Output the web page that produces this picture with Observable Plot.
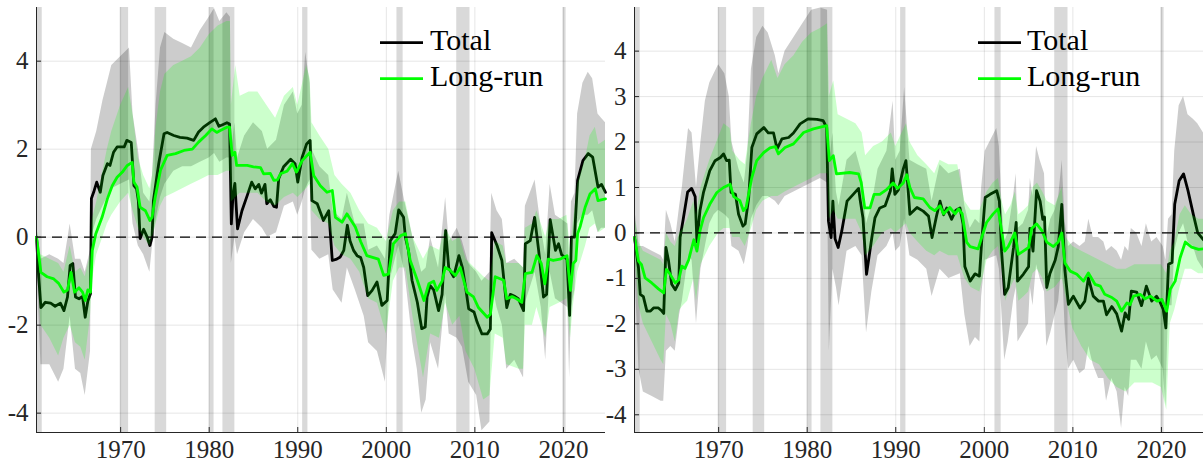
<!DOCTYPE html>
<html><head><meta charset="utf-8">
<script src="https://cdn.jsdelivr.net/npm/d3@7"></script>
<script src="https://cdn.jsdelivr.net/npm/@observablehq/plot@0.6"></script>
<style>
body{margin:0;background:#fff;}
#wrap{position:relative;width:1203px;height:467px;overflow:hidden;background:#fff;}
.panel{position:absolute;top:0;}
#legend{position:absolute;left:0;top:0;pointer-events:none;}
#wrap svg, #wrap svg text{font-family:"Liberation Serif", "DejaVu Serif", serif !important;}
#wrap .panel text{font-size:25px !important;}
</style></head><body><div id="wrap"></div>
<script>
// ---------- data ----------
const xDomain = [1960.5, 2024.75];
const xTicks = [1970, 1980, 1990, 2000, 2010, 2020];
const leftYTicks = [-4, -2, 0, 2, 4];
const rightYTicks = [-4, -3, -2, -1, 0, 1, 2, 3, 4];
const leftYDomain = [-4.44, 5.22];
const rightYDomain = [-4.39, 4.96];
const legendLabels = ["Total", "Long-run"];

// NBER recessions [start, end]
const recessions = [[1960.5,1961.15],[1969.95,1970.9],[1973.9,1975.2],[1980.0,1980.55],[1981.55,1982.9],[1990.55,1991.15],[2001.2,2001.9],[2007.95,2009.45],[2019.95,2020.3]];

// ----- left panel -----
const leftTotal = [[1960.5,0],[1960.75,-0.9],[1961.0,-1.6],[1961.5,-1.48],[1962.1,-1.5],[1962.6,-1.57],[1963.2,-1.5],[1963.6,-1.67],[1964.0,-1.36],[1964.3,-0.64],[1964.6,-0.6],[1964.9,-1.36],[1965.3,-1.4],[1965.7,-1.35],[1966.0,-1.82],[1966.3,-1.45],[1966.6,-1.28],[1966.7,0.88],[1967.0,1.05],[1967.3,1.25],[1967.7,1.02],[1968.0,1.4],[1968.5,1.67],[1968.8,1.63],[1969.2,1.93],[1969.6,2.05],[1970.4,2.05],[1970.7,2.2],[1971.2,2.15],[1971.5,1.17],[1971.8,1.1],[1972.0,0.83],[1972.2,-0.03],[1972.6,0.18],[1973.0,0.0],[1973.3,-0.19],[1973.55,0.0],[1973.7,0.83],[1974.3,1.67],[1974.9,2.35],[1975.25,2.38],[1976.0,2.31],[1976.7,2.27],[1977.5,2.25],[1978.25,2.2],[1978.8,2.39],[1979.35,2.5],[1980.1,2.61],[1980.7,2.69],[1981.1,2.52],[1981.45,2.55],[1982.0,2.6],[1982.3,2.57],[1982.5,0.3],[1982.7,0.99],[1982.9,1.22],[1983.2,0.19],[1983.7,0.6],[1984.3,0.95],[1984.8,1.25],[1985.2,1.1],[1985.6,1.2],[1985.9,1.0],[1986.3,1.2],[1986.5,0.76],[1986.9,0.85],[1987.3,0.7],[1987.6,0.68],[1987.85,1.33],[1988.4,1.6],[1989.2,1.77],[1989.7,1.67],[1990.0,1.25],[1990.5,1.82],[1991.0,2.12],[1991.4,2.2],[1991.6,0.83],[1992.2,0.76],[1992.9,0.38],[1993.5,0.6],[1993.9,-0.53],[1994.4,-0.5],[1994.8,-0.45],[1995.2,-0.3],[1995.6,0.27],[1995.9,-0.08],[1996.3,-0.3],[1996.7,-0.42],[1997.1,-0.46],[1997.45,-0.69],[1997.9,-1.33],[1998.4,-1.21],[1998.95,-1.02],[1999.5,-1.55],[2000.1,-1.44],[2000.45,-0.08],[2001.0,0.08],[2001.4,0.62],[2001.95,0.45],[2002.15,0.0],[2002.5,-0.3],[2002.9,-0.98],[2003.5,-1.48],[2004.0,-2.08],[2004.4,-2.04],[2004.6,-1.36],[2004.95,-1.1],[2005.35,-1.2],[2005.9,-1.67],[2006.3,-1.3],[2006.7,0.15],[2007.05,-0.7],[2007.6,-0.9],[2008.2,-0.42],[2008.6,-0.7],[2008.95,-1.14],[2009.3,-1.63],[2009.9,-1.7],[2010.25,-1.93],[2010.8,-2.2],[2011.4,-2.2],[2011.75,-2.09],[2011.9,0.1],[2012.5,-0.19],[2013.05,-0.53],[2013.6,-1.6],[2014.0,-1.3],[2014.55,-1.35],[2014.9,-1.4],[2015.5,-1.67],[2015.7,-0.15],[2016.25,-0.08],[2016.75,0.45],[2017.2,-0.3],[2017.75,-1.36],[2018.1,-1.3],[2018.5,0.4],[2019.1,-0.3],[2019.45,-0.15],[2019.8,-0.4],[2020.4,-0.5],[2020.7,-1.78],[2020.9,0.0],[2021.25,0.0],[2021.6,1.29],[2022.2,1.74],[2022.8,1.9],[2023.3,1.82],[2023.9,1.14],[2024.3,1.2],[2024.75,1.02]];

const leftLongRun = [[1960.5,0],[1961.0,-0.8],[1961.7,-0.9],[1962.45,-0.95],[1963.0,-1.05],[1963.6,-1.25],[1964.0,-1.2],[1964.4,-0.8],[1964.8,-1.25],[1965.3,-1.15],[1965.7,-1.25],[1966.0,-1.44],[1966.3,-1.2],[1966.6,-1.25],[1966.8,-0.3],[1967.2,0.08],[1967.9,0.45],[1968.5,0.87],[1969.05,1.17],[1969.6,1.36],[1970.2,1.48],[1970.75,1.63],[1971.3,1.7],[1971.5,1.25],[1971.85,1.14],[1972.2,0.68],[1972.8,0.6],[1973.3,0.38],[1973.55,0.45],[1973.9,0.9],[1974.5,1.52],[1975.25,1.86],[1976.2,1.9],[1977.15,1.97],[1978.1,2.0],[1978.8,2.16],[1979.6,2.31],[1980.3,2.46],[1980.85,2.38],[1981.2,2.42],[1982.0,2.5],[1982.3,2.5],[1982.6,1.86],[1982.9,1.93],[1983.1,1.63],[1984.3,1.63],[1985.0,1.6],[1985.8,1.58],[1986.15,1.44],[1986.9,1.45],[1987.3,1.29],[1987.7,1.3],[1988.05,1.44],[1988.8,1.5],[1989.4,1.67],[1989.85,1.48],[1990.5,1.74],[1991.4,1.93],[1991.8,1.4],[1992.55,1.17],[1993.3,1.02],[1993.9,1.06],[1994.25,0.45],[1995.0,0.34],[1995.55,0.53],[1996.5,0.23],[1997.1,-0.1],[1997.8,-0.42],[1999.1,-0.5],[1999.7,-0.87],[2000.25,-0.84],[2000.8,-0.15],[2001.6,0.03],[2002.15,0.08],[2002.7,-0.53],[2003.5,-0.98],[2004.25,-1.44],[2004.8,-1.06],[2005.35,-1.0],[2005.7,-1.21],[2006.3,-1.0],[2006.65,-0.69],[2007.2,-0.75],[2007.8,-0.87],[2008.35,-0.69],[2009.1,-1.25],[2009.85,-1.36],[2010.4,-1.6],[2011.4,-1.82],[2011.75,-1.75],[2012.3,-0.9],[2013.25,-0.98],[2013.6,-1.4],[2014.2,-1.35],[2014.7,-1.4],[2015.3,-1.48],[2015.7,-0.83],[2016.45,-0.8],[2017.0,-0.42],[2017.5,-0.6],[2017.9,-1.06],[2018.3,-0.5],[2018.85,-0.53],[2019.6,-0.5],[2020.4,-0.42],[2020.8,-1.21],[2021.1,-0.6],[2021.4,-0.53],[2021.6,0.08],[2021.9,0.25],[2022.45,0.68],[2023.0,0.98],[2023.6,1.1],[2023.9,0.83],[2024.75,0.87]];

// [year, lower, upper]
const leftTotalBand = [[1960.5,-0.3,0.3],[1961.0,-2.9,-0.5],[1962.0,-2.9,-0.4],[1963.0,-3.3,-0.5],[1963.6,-3.0,-0.6],[1964.3,-1.8,0.3],[1964.9,-3.0,-0.5],[1965.5,-3.1,-0.5],[1966.0,-3.6,-0.8],[1966.6,-2.6,-0.3],[1966.7,0.0,2.0],[1967.3,0.4,2.4],[1968.0,0.7,3.1],[1968.5,0.9,3.5],[1969.0,1.1,3.9],[1970.0,1.2,4.1],[1971.0,1.3,4.3],[1971.4,0.3,2.8],[1972.0,-0.2,2.0],[1972.6,-0.4,1.0],[1973.3,-0.8,0.8],[1973.6,-0.2,1.4],[1974.0,0.4,3.0],[1974.5,0.9,4.3],[1975.0,1.2,4.65],[1976.0,1.5,4.5],[1977.0,1.6,4.4],[1978.0,1.6,4.3],[1979.0,1.7,4.7],[1980.0,1.8,5.0],[1980.6,1.9,5.2],[1981.2,1.7,4.9],[1982.0,1.8,5.1],[1982.4,1.8,5.0],[1982.5,-0.6,1.9],[1982.9,0.0,2.6],[1983.2,-0.4,1.8],[1984.0,0.1,2.3],[1985.0,0.4,2.6],[1986.0,0.2,2.4],[1986.6,0.0,2.0],[1987.6,0.1,2.2],[1988.5,0.7,3.0],[1989.5,0.8,3.3],[1990.0,0.5,2.8],[1990.5,0.8,3.0],[1990.9,1.1,4.2],[1991.4,1.3,3.5],[1991.6,-0.3,2.0],[1992.5,-0.5,1.6],[1993.5,-0.4,1.4],[1994.0,-1.2,0.6],[1995.0,-1.5,0.4],[1995.6,-0.7,1.0],[1996.5,-1.2,0.3],[1997.5,-1.8,0.3],[1998.0,-2.4,-0.3],[1999.0,-2.6,-0.2],[1999.9,-3.3,-0.5],[2000.4,-1.0,0.5],[2001.4,-0.2,1.5],[2002.1,-0.8,0.8],[2003.0,-2.4,0.0],[2003.5,-3.0,-0.4],[2004.0,-4.0,-0.8],[2004.5,-3.7,-0.7],[2005.0,-2.4,0.0],[2005.9,-3.0,-0.7],[2006.7,-1.3,0.9],[2007.1,-2.2,-0.1],[2008.0,-2.3,0.2],[2008.6,-2.5,-0.1],[2009.3,-3.3,-0.6],[2010.2,-3.6,-0.8],[2010.8,-4.4,-1.0],[2011.7,-4.2,-0.8],[2011.9,-1.0,1.0],[2012.5,-1.6,0.6],[2013.1,-2.0,0.4],[2013.6,-3.0,-0.6],[2014.5,-2.8,-0.5],[2015.5,-3.2,-0.7],[2015.7,-1.5,0.7],[2016.8,-0.8,1.3],[2017.5,-1.6,0.2],[2018.0,-2.8,-0.4],[2018.5,-0.8,1.2],[2019.1,-1.4,0.5],[2019.8,-1.5,0.4],[2020.5,-1.6,0.3],[2020.7,-3.2,-0.8],[2020.9,-1.6,0.8],[2021.3,-1.2,1.0],[2021.6,0.3,2.8],[2022.2,0.5,3.5],[2022.8,0.5,3.75],[2023.3,0.6,3.6],[2023.9,0.1,2.8],[2024.3,0.2,2.7],[2024.75,0.2,2.6]];

const leftLongRunBand = [[1960.5,-0.3,0.3],[1961.0,-2.0,-0.4],[1962.0,-2.3,-0.5],[1963.0,-2.7,-0.6],[1963.6,-2.3,-0.8],[1964.3,-2.0,-0.2],[1964.9,-2.4,-0.8],[1965.5,-2.5,-0.7],[1966.0,-2.8,-0.9],[1966.6,-1.8,-0.4],[1966.8,-1.0,0.4],[1967.3,-0.4,0.8],[1968.0,0.0,1.5],[1968.5,0.3,2.0],[1969.0,0.5,2.4],[1970.0,0.8,3.0],[1970.9,1.0,3.4],[1971.4,0.6,2.8],[1972.0,0.2,1.8],[1972.6,0.0,1.4],[1973.3,-0.2,1.1],[1973.6,0.0,1.4],[1974.0,0.3,2.5],[1974.5,0.7,3.3],[1975.0,0.9,3.7],[1976.0,1.0,3.9],[1977.0,1.1,4.0],[1978.0,1.2,4.1],[1979.0,1.3,4.3],[1980.0,1.4,4.6],[1981.0,1.4,4.8],[1982.0,1.5,4.9],[1982.4,1.5,4.9],[1982.5,0.8,3.0],[1983.0,0.9,3.9],[1983.5,1.0,3.2],[1984.5,1.0,3.3],[1985.5,1.0,3.3],[1986.5,0.8,3.0],[1987.5,0.7,2.7],[1988.5,0.9,3.2],[1989.5,1.0,3.4],[1990.0,0.9,3.0],[1991.0,1.1,3.9],[1991.4,1.2,3.6],[1991.6,0.6,2.6],[1992.5,0.4,2.3],[1993.5,0.3,2.0],[1994.2,-0.2,1.4],[1995.0,-0.4,1.2],[1996.0,-0.5,1.0],[1997.0,-0.8,0.6],[1998.0,-1.4,0.3],[1999.0,-1.5,0.2],[2000.0,-2.2,-0.1],[2000.8,-1.0,0.6],[2001.5,-0.7,0.8],[2002.2,-0.7,0.8],[2003.0,-1.8,0.0],[2004.2,-3.2,-0.5],[2005.0,-2.2,-0.2],[2006.0,-2.3,-0.3],[2006.7,-1.5,0.2],[2007.5,-2.0,-0.1],[2008.3,-1.8,0.0],[2009.0,-2.6,-0.5],[2010.0,-3.0,-0.7],[2011.0,-3.7,-0.9],[2011.7,-3.6,-1.0],[2012.3,-2.2,-0.1],[2013.2,-2.3,-0.2],[2013.6,-2.9,-0.6],[2015.0,-3.0,-0.6],[2015.5,-3.0,-0.7],[2015.7,-2.0,0.2],[2016.5,-2.0,0.3],[2017.0,-1.6,0.6],[2018.0,-2.3,0.0],[2018.5,-1.6,0.4],[2019.5,-1.5,0.4],[2020.4,-1.4,0.5],[2020.8,-2.3,-0.3],[2021.1,-1.6,0.3],[2021.6,-0.8,1.2],[2022.5,-0.2,1.8],[2023.0,0.2,2.3],[2023.6,0.3,2.5],[2024.0,0.1,2.1],[2024.75,0.2,2.2]];

// ----- right panel -----
const rightTotal = [[1960.5,-0.1],[1960.95,-0.77],[1961.15,-1.35],[1961.5,-1.4],[1961.9,-1.72],[1962.3,-1.72],[1962.65,-1.65],[1963.2,-1.65],[1963.5,-1.7],[1963.8,-1.77],[1964.05,-0.32],[1964.35,-0.62],[1964.7,-1.13],[1965.1,-1.25],[1965.5,-1.1],[1965.65,-0.1],[1966.0,0.3],[1966.5,0.9],[1966.95,0.98],[1967.35,0.8],[1967.55,-0.2],[1967.9,0.5],[1968.3,0.9],[1969.0,1.37],[1969.6,1.59],[1970.2,1.66],[1970.55,1.74],[1970.9,1.59],[1971.2,1.6],[1971.4,0.89],[1971.9,0.85],[1972.25,0.41],[1972.75,0.15],[1973.0,0.2],[1973.4,0.78],[1973.75,1.88],[1974.3,2.18],[1975.1,2.32],[1975.6,2.2],[1976.2,2.2],[1976.6,1.85],[1977.15,2.07],[1977.9,2.1],[1978.45,2.2],[1979.2,2.4],[1980.1,2.51],[1981.1,2.5],[1981.8,2.47],[1982.2,2.32],[1982.4,0.26],[1982.7,-0.1],[1982.9,0.7],[1983.15,-0.13],[1983.5,-0.32],[1983.9,0.04],[1984.5,0.7],[1985.2,0.85],[1985.8,0.98],[1986.0,0.7],[1986.3,0.33],[1986.7,-0.91],[1987.3,-0.1],[1987.65,0.33],[1988.2,0.55],[1988.8,0.6],[1989.4,0.93],[1989.6,1.41],[1989.9,0.85],[1990.3,0.95],[1990.85,1.41],[1991.15,1.59],[1991.6,0.41],[1992.4,0.56],[1993.1,0.48],[1993.7,0.37],[1994.1,-0.1],[1994.6,0.37],[1995.0,0.7],[1995.4,0.4],[1995.75,0.55],[1996.3,0.3],[1996.8,0.5],[1997.25,0.55],[1997.6,0.2],[1997.8,-0.74],[1998.4,-1.06],[1998.95,-0.9],[1999.45,-0.95],[1999.7,-0.2],[2000.1,0.78],[2000.65,0.85],[2001.4,0.93],[2001.7,0.7],[2001.95,-0.4],[2002.3,-1.35],[2002.7,-1.2],[2003.3,-0.32],[2003.6,0.23],[2003.75,-1.06],[2004.4,-0.91],[2005.0,-0.74],[2005.15,0.1],[2005.5,-0.4],[2005.9,0.93],[2006.3,0.7],[2006.6,0.3],[2006.8,0.35],[2007.05,-1.2],[2007.4,-0.9],[2008.0,-0.6],[2008.35,-0.3],[2008.75,0.63],[2009.1,-0.82],[2009.5,-1.57],[2010.05,-1.39],[2010.8,-1.65],[2011.35,-1.5],[2011.75,-0.99],[2012.3,-1.39],[2012.9,-1.5],[2013.45,-1.5],[2013.8,-1.8],[2014.4,-1.62],[2014.95,-1.78],[2015.5,-2.16],[2015.9,-1.76],[2016.3,-1.9],[2016.6,-1.28],[2017.2,-1.3],[2017.75,-1.6],[2018.3,-1.17],[2018.9,-1.5],[2019.45,-1.39],[2019.8,-1.5],[2020.2,-1.68],[2020.5,-2.09],[2020.8,-0.69],[2021.2,-0.65],[2021.5,0.63],[2022.0,1.15],[2022.5,1.3],[2023.0,0.93],[2023.6,0.41],[2024.1,0.0],[2024.75,-0.15]];

const rightLongRun = [[1960.5,-0.1],[1960.95,-0.62],[1961.3,-0.7],[1961.7,-0.99],[1962.45,-1.1],[1963.2,-1.23],[1963.8,-1.32],[1964.1,-0.8],[1964.5,-0.9],[1965.1,-1.1],[1965.5,-1.03],[1965.85,-0.73],[1966.2,-0.78],[1966.6,-0.6],[1967.2,-0.15],[1967.55,-0.4],[1967.9,0.05],[1968.3,0.34],[1969.0,0.63],[1969.8,0.89],[1970.55,1.0],[1971.3,1.07],[1971.7,0.8],[1972.4,0.71],[1972.8,0.49],[1973.1,0.56],[1973.75,1.22],[1974.3,1.59],[1975.1,1.77],[1975.8,1.87],[1976.4,1.9],[1976.75,1.74],[1977.5,1.88],[1978.45,1.96],[1979.6,2.21],[1980.7,2.29],[1982.2,2.36],[1982.5,1.59],[1982.95,1.7],[1983.3,1.3],[1984.8,1.33],[1985.8,1.3],[1986.1,1.11],[1986.5,0.55],[1987.1,0.55],[1987.55,0.85],[1988.2,0.85],[1989.0,0.96],[1989.7,1.1],[1990.2,0.98],[1990.85,1.1],[1991.25,1.28],[1991.6,1.0],[1992.1,0.78],[1993.1,0.75],[1993.85,0.56],[1994.4,0.49],[1995.0,0.6],[1995.4,0.42],[1996.1,0.56],[1996.7,0.42],[1997.1,0.53],[1997.5,0.42],[1998.0,-0.2],[1998.4,-0.3],[1999.3,-0.35],[1999.7,-0.1],[2000.25,0.23],[2001.0,0.42],[2001.55,0.53],[2001.9,0.12],[2002.3,-0.4],[2002.7,-0.3],[2003.45,0.0],[2003.85,-0.47],[2004.4,-0.4],[2005.0,-0.32],[2005.35,0.1],[2005.9,0.2],[2006.5,0.05],[2007.05,-0.2],[2007.8,-0.3],[2008.35,-0.2],[2008.75,0.0],[2009.1,-0.66],[2009.7,-0.84],[2010.45,-0.91],[2011.2,-1.06],[2011.75,-0.88],[2012.5,-1.13],[2013.1,-1.17],[2013.6,-1.35],[2014.4,-1.42],[2014.95,-1.5],[2015.5,-1.72],[2016.1,-1.54],[2016.45,-1.58],[2016.85,-1.39],[2017.6,-1.35],[2018.15,-1.45],[2018.75,-1.39],[2019.5,-1.5],[2020.05,-1.46],[2020.6,-1.72],[2021.0,-1.24],[2021.55,-1.06],[2022.1,-0.55],[2022.7,-0.2],[2023.4,-0.31],[2024.2,-0.36],[2024.75,-0.35]];

const rightTotalBand = [[1960.5,-0.6,0.6],[1961.0,-3.0,-0.3],[1961.5,-3.5,-0.3],[1962.5,-3.6,-0.4],[1963.5,-3.7,-0.5],[1963.8,-3.7,-0.6],[1964.1,-2.6,0.5],[1964.6,-2.5,0.2],[1965.1,-2.6,-0.2],[1965.6,-1.8,0.6],[1965.9,-1.5,1.0],[1966.6,-0.5,2.3],[1967.0,-0.6,2.2],[1967.5,-2.0,1.0],[1968.0,-0.8,2.0],[1968.5,-0.3,2.9],[1969.0,0.2,3.3],[1969.5,0.4,3.5],[1970.0,0.5,3.7],[1970.7,0.4,3.5],[1971.2,0.3,3.0],[1971.5,-0.3,2.0],[1972.3,-0.4,1.4],[1972.9,-0.7,1.1],[1973.3,-0.3,1.8],[1973.7,0.3,3.6],[1974.3,0.6,4.3],[1975.0,0.8,4.55],[1975.6,0.8,4.4],[1976.4,0.7,3.9],[1976.8,0.6,3.5],[1977.5,0.8,4.0],[1978.5,0.9,4.3],[1979.5,1.0,4.6],[1980.5,1.1,4.9],[1981.5,1.2,4.95],[1982.3,1.1,4.9],[1982.5,-2.6,1.5],[1982.9,-0.8,2.2],[1983.3,-1.2,0.9],[1983.6,-1.6,0.6],[1984.5,-0.4,1.6],[1985.5,-0.3,1.8],[1986.2,-0.5,1.3],[1986.7,-2.2,0.2],[1987.3,-1.3,0.6],[1988.0,-0.5,1.4],[1989.0,-0.3,1.8],[1989.7,0.0,2.9],[1990.0,-0.4,1.6],[1990.5,-0.3,1.8],[1991.0,0.3,3.2],[1991.6,-0.5,1.6],[1992.5,-0.6,1.5],[1993.5,-0.8,1.4],[1994.1,-1.4,0.7],[1995.0,-0.8,1.5],[1996.0,-1.0,1.3],[1997.3,-0.9,1.4],[1997.8,-1.8,0.6],[1998.4,-2.5,0.1],[1999.0,-2.3,0.3],[1999.5,-2.4,0.2],[1999.7,-1.4,1.0],[2000.1,-0.6,1.8],[2001.4,-0.5,2.3],[2001.7,-0.8,1.9],[2002.0,-1.8,0.6],[2002.3,-2.8,-0.2],[2002.7,-2.4,0.0],[2003.3,-1.5,0.8],[2003.6,-1.2,1.3],[2003.8,-2.4,0.1],[2004.4,-2.2,0.2],[2005.0,-2.0,0.5],[2005.2,-1.2,1.2],[2005.5,-1.6,0.8],[2005.9,-0.7,1.9],[2006.3,-1.0,1.6],[2006.8,-1.3,1.3],[2007.05,-2.5,-0.1],[2007.5,-2.2,0.3],[2008.0,-1.8,0.5],[2008.4,-1.5,0.8],[2008.8,-0.6,1.6],[2009.1,-2.0,0.3],[2009.5,-3.0,-0.3],[2010.1,-2.8,-0.2],[2010.8,-3.1,-0.3],[2011.4,-3.0,-0.2],[2011.8,-2.5,0.3],[2012.3,-2.9,-0.1],[2012.9,-3.2,-0.1],[2013.5,-3.2,-0.2],[2013.8,-3.7,-0.4],[2014.4,-3.2,-0.3],[2015.0,-3.5,-0.4],[2015.5,-4.3,-0.6],[2015.9,-3.4,-0.3],[2016.3,-3.6,-0.4],[2016.6,-2.8,0.1],[2017.2,-2.8,0.0],[2017.8,-3.0,-0.3],[2018.3,-2.4,0.2],[2018.9,-2.8,-0.2],[2019.5,-2.7,-0.1],[2020.2,-3.0,-0.3],[2020.5,-3.8,-0.6],[2020.8,-1.6,0.3],[2021.2,-1.6,0.4],[2021.5,-0.4,1.8],[2022.0,0.0,2.8],[2022.5,0.2,3.0],[2023.0,-0.2,2.6],[2023.6,-0.3,2.5],[2024.1,-0.6,2.4],[2024.75,-0.8,2.2]];

const rightLongRunBand = [[1960.5,-0.4,0.4],[1961.0,-1.6,-0.2],[1961.5,-2.0,-0.4],[1962.5,-2.4,-0.5],[1963.5,-2.8,-0.6],[1963.8,-2.9,-0.7],[1964.1,-1.8,0.0],[1964.6,-2.0,-0.2],[1965.1,-2.4,-0.3],[1965.6,-1.7,0.0],[1966.0,-1.6,0.1],[1966.5,-1.5,0.3],[1967.2,-1.0,0.7],[1967.5,-1.5,0.4],[1968.0,-0.7,1.0],[1969.0,-0.3,1.6],[1970.0,0.0,2.1],[1970.6,0.1,2.4],[1971.3,0.1,2.3],[1971.6,-0.1,1.8],[1972.4,-0.1,1.6],[1973.0,-0.3,1.5],[1973.7,0.1,2.4],[1974.3,0.5,3.0],[1975.0,0.7,3.4],[1976.0,0.8,3.8],[1976.7,0.8,3.4],[1977.5,0.9,3.7],[1978.5,1.0,3.9],[1979.5,1.1,4.2],[1980.5,1.2,4.4],[1981.5,1.3,4.5],[1982.3,1.3,4.6],[1982.5,0.3,3.0],[1983.0,0.5,3.35],[1983.5,0.3,2.6],[1984.5,0.3,2.5],[1985.5,0.3,2.4],[1986.2,0.0,2.2],[1986.6,-0.5,1.7],[1987.5,-0.3,1.9],[1988.5,0.0,2.0],[1989.5,0.1,2.2],[1990.0,0.0,1.9],[1991.2,0.2,2.4],[1991.6,0.0,2.0],[1992.5,-0.2,1.7],[1993.5,-0.4,1.5],[1994.4,-0.5,1.3],[1995.0,-0.4,1.6],[1996.0,-0.5,1.5],[1997.0,-0.5,1.5],[1997.8,-1.0,0.7],[1998.5,-1.2,0.5],[1999.5,-1.3,0.5],[2000.3,-0.6,0.9],[2001.0,-0.4,1.1],[2001.6,-0.3,1.2],[2002.0,-0.8,0.7],[2002.4,-1.5,0.4],[2003.0,-1.2,0.6],[2003.5,-1.0,0.9],[2003.9,-1.5,0.4],[2004.5,-1.4,0.5],[2005.0,-1.3,0.6],[2005.5,-0.9,1.0],[2006.0,-0.8,1.1],[2006.6,-1.0,0.9],[2007.1,-1.3,0.7],[2008.0,-1.2,0.6],[2008.8,-1.0,1.0],[2009.2,-1.4,-0.1],[2010.0,-2.1,-0.3],[2011.0,-2.5,-0.4],[2012.0,-2.8,-0.5],[2013.0,-2.9,-0.6],[2014.0,-3.2,-0.7],[2015.0,-3.4,-0.8],[2016.0,-3.5,-0.8],[2017.0,-3.3,-0.7],[2018.0,-3.3,-0.7],[2019.0,-3.3,-0.7],[2020.0,-3.4,-0.7],[2020.6,-3.9,-0.9],[2021.0,-2.0,-0.4],[2021.5,-1.7,-0.2],[2022.1,-1.2,0.4],[2022.7,-0.8,0.6],[2023.4,-0.8,0.4],[2024.2,-0.9,0.3],[2024.75,-0.9,0.3]];

// ---------- drawing ----------
const AX = "#262626";
const FONT = '"Liberation Serif", "DejaVu Serif", serif';
const TICK_FONT = 25;
function panel({total, longRun, totalBand, longRunBand, yDomain, yTicks, width, marginLeft}) {
  const pxPerUnit = 425 / (yDomain[1] - yDomain[0]);
  const tickLenY = 5 / pxPerUnit;
  const tickLenX = 5 / ((width - marginLeft) / (xDomain[1] - xDomain[0]));
  const fmt = d => d < 0 ? "-" + (-d) : String(d);
  return Plot.plot({
    width, height: 467,
    marginLeft, marginRight: 0, marginTop: 7, marginBottom: 35,
    x: {domain: xDomain},
    y: {domain: yDomain},
    style: {fontFamily: FONT, fontSize: TICK_FONT + "px", color: AX, background: "transparent", overflow: "visible"},
    marks: [
      Plot.ruleX(xTicks, {stroke: "#000", strokeOpacity: 0.1}),
      Plot.ruleY(yTicks, {stroke: "#000", strokeOpacity: 0.1}),
      Plot.rect(recessions, {x1: d => d[0], x2: d => d[1], fill: "#000", fillOpacity: 0.15}),
      Plot.areaY(totalBand, {x: d => d[0], y1: d => d[1], y2: d => d[2], fill: "#000", fillOpacity: 0.2}),
      Plot.line(total, {x: d => d[0], y: d => d[1], stroke: "#000", strokeWidth: 2.8}),
      Plot.areaY(longRunBand, {x: d => d[0], y1: d => d[1], y2: d => d[2], fill: "#00ff00", fillOpacity: 0.2}),
      Plot.line(longRun, {x: d => d[0], y: d => d[1], stroke: "#00ff00", strokeWidth: 2.8}),
      Plot.ruleY([0], {stroke: "#000", strokeWidth: 1.3, strokeDasharray: "10,6"}),
      Plot.axisX({ticks: xTicks, tickFormat: d => String(d), tickSize: 0, tickPadding: 8, label: null, fill: AX, fontSize: TICK_FONT}),
      Plot.axisY({ticks: yTicks, tickFormat: fmt, tickSize: 0, tickPadding: 8, label: null, fill: AX, fontSize: TICK_FONT}),
      Plot.ruleX(xTicks, {y1: yDomain[0], y2: yDomain[0] + tickLenY, stroke: AX}),
      Plot.ruleY(yTicks, {x1: xDomain[0], x2: xDomain[0] + tickLenX, stroke: AX}),
      Plot.ruleX([xDomain[0]], {stroke: AX}),
      Plot.ruleY([yDomain[0]], {stroke: AX})
    ]
  });
}

const wrap = document.getElementById("wrap");
const left = panel({total: leftTotal, longRun: leftLongRun, totalBand: leftTotalBand, longRunBand: leftLongRunBand, yDomain: leftYDomain, yTicks: leftYTicks, width: 605, marginLeft: 36});
left.classList.add("panel"); left.style.left = "0px";
const right = panel({total: rightTotal, longRun: rightLongRun, totalBand: rightTotalBand, longRunBand: rightLongRunBand, yDomain: rightYDomain, yTicks: rightYTicks, width: 598, marginLeft: 29});
right.classList.add("panel"); right.style.left = "605px";
wrap.appendChild(left);
wrap.appendChild(right);

// legend overlay
const ns = "http://www.w3.org/2000/svg";
const lg = document.createElementNS(ns, "svg");
lg.setAttribute("id", "legend"); lg.setAttribute("width", 1203); lg.setAttribute("height", 467);
const legendColors = ["#000", "#00ff00"];
[[380, 430], [978, 1027]].forEach(([lx, tx]) => {
  legendLabels.forEach((lab, i) => {
    const y = 42.7 + i * 36;
    const ln = document.createElementNS(ns, "line");
    ln.setAttribute("x1", lx); ln.setAttribute("x2", lx + 43);
    ln.setAttribute("y1", y); ln.setAttribute("y2", y);
    ln.setAttribute("stroke", legendColors[i]); ln.setAttribute("stroke-width", 2.8);
    lg.appendChild(ln);
    const t = document.createElementNS(ns, "text");
    t.setAttribute("x", tx); t.setAttribute("y", y + 7.5);
    t.setAttribute("font-size", 30);
    t.setAttribute("fill", "#000");
    t.textContent = lab;
    lg.appendChild(t);
  });
});
wrap.appendChild(lg);
</script></body></html>
